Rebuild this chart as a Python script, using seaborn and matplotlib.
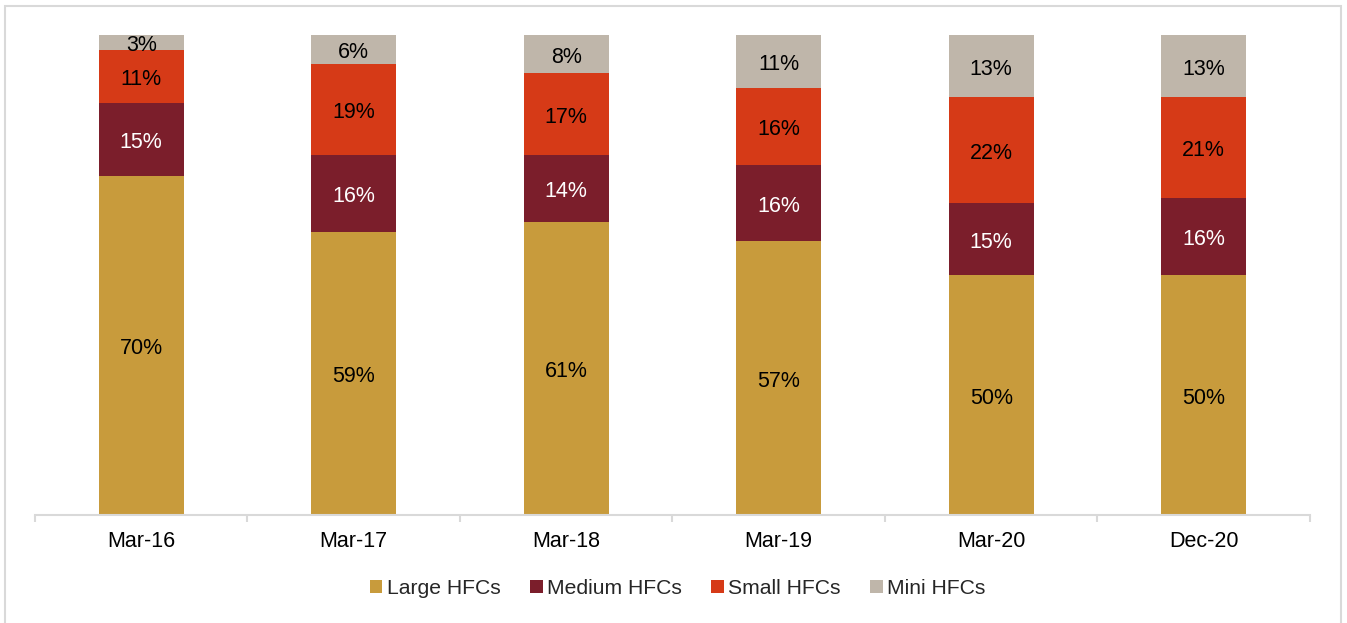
import numpy as np
import pandas as pd
import matplotlib
matplotlib.use("Agg")
import matplotlib.pyplot as plt
import matplotlib.transforms as mtransforms
import seaborn as sns
from matplotlib.patches import Rectangle, Patch

# Data (share of each HFC size class, %)
periods = ["Mar-16", "Mar-17", "Mar-18", "Mar-19", "Mar-20", "Dec-20"]
large = [70, 59, 61, 57, 50, 50]
medium = [15, 16, 14, 16, 15, 16]
small = [11, 19, 17, 16, 22, 21]
mini = [3, 6, 8, 11, 13, 13]

series = ["Large HFCs", "Medium HFCs", "Small HFCs", "Mini HFCs"]
colors = ["#C89B3C", "#7B1E2B", "#D63A17", "#BFB6AA"]
label_colors = ["black", "white", "black", "black"]

sns.set_theme(style="white")
plt.rcParams["font.family"] = ["Liberation Sans", "DejaVu Sans"]

df = pd.DataFrame({"period": periods, "Large HFCs": large, "Medium HFCs": medium,
                   "Small HFCs": small, "Mini HFCs": mini})
vals = df[series].to_numpy(dtype=float)
# bars are drawn as a full 100% stack
shares = vals / vals.sum(axis=1, keepdims=True) * 100
cum = np.cumsum(shares, axis=1)

fig = plt.figure(figsize=(13.47, 6.23), dpi=100)
ax = fig.add_axes([35 / 1347, 1 - 515 / 623, (1310 - 35) / 1347, 480 / 623])

# draw cumulative layers from top to bottom so each one covers the rest
for i in range(len(series) - 1, -1, -1):
    d = pd.DataFrame({"period": periods, "top": cum[:, i]})
    sns.barplot(data=d, x="period", y="top", color=colors[i], width=0.4,
                saturation=1, ax=ax, linewidth=0)

# labels sit a touch below the geometric centre, like the original
lbl_tr = ax.transData + mtransforms.ScaledTranslation(0, -3 / 100, fig.dpi_scale_trans)
for j in range(len(periods)):
    for i in range(len(series)):
        bottom = cum[j, i] - shares[j, i]
        ax.text(j, bottom + shares[j, i] / 2, f"{int(vals[j, i])}%", transform=lbl_tr,
                ha="center", va="center", fontsize=15.5, color=label_colors[i])

ax.set_xlim(-0.5, len(periods) - 0.5)
ax.set_ylim(0, 100)
ax.set_xlabel("")
ax.set_ylabel("")
ax.set_yticks([])
for s in ["top", "right", "left"]:
    ax.spines[s].set_visible(False)
ax.spines["bottom"].set_color("#d9d9d9")
ax.spines["bottom"].set_linewidth(1.5)
ax.tick_params(axis="x", which="major", length=0, pad=11.5, labelsize=15.5, labelcolor="black")
ax.set_xticks(np.arange(-0.5, len(periods), 1.0), minor=True)
ax.tick_params(axis="x", which="minor", length=5, width=1.5, color="#d9d9d9", direction="out")
ax.xaxis.set_tick_params(bottom=True, which="both")

handles = [Patch(facecolor=c, edgecolor="none") for c in colors]
fig.legend(handles, series, loc="center", bbox_to_anchor=(0.503, 0.055), ncol=4,
           frameon=False, fontsize=15.2, handlelength=0.6, handleheight=0.6,
           handletextpad=0.2, columnspacing=1.4)

# light frame around the chart
fig.patches.append(Rectangle((5 / 1347, -0.1), 1336 / 1347, 1.1 - 6 / 623,
                             transform=fig.transFigure, fill=False,
                             edgecolor="#d9d9d9", linewidth=1.5))

fig.savefig("out.png", dpi=100, facecolor="white")
